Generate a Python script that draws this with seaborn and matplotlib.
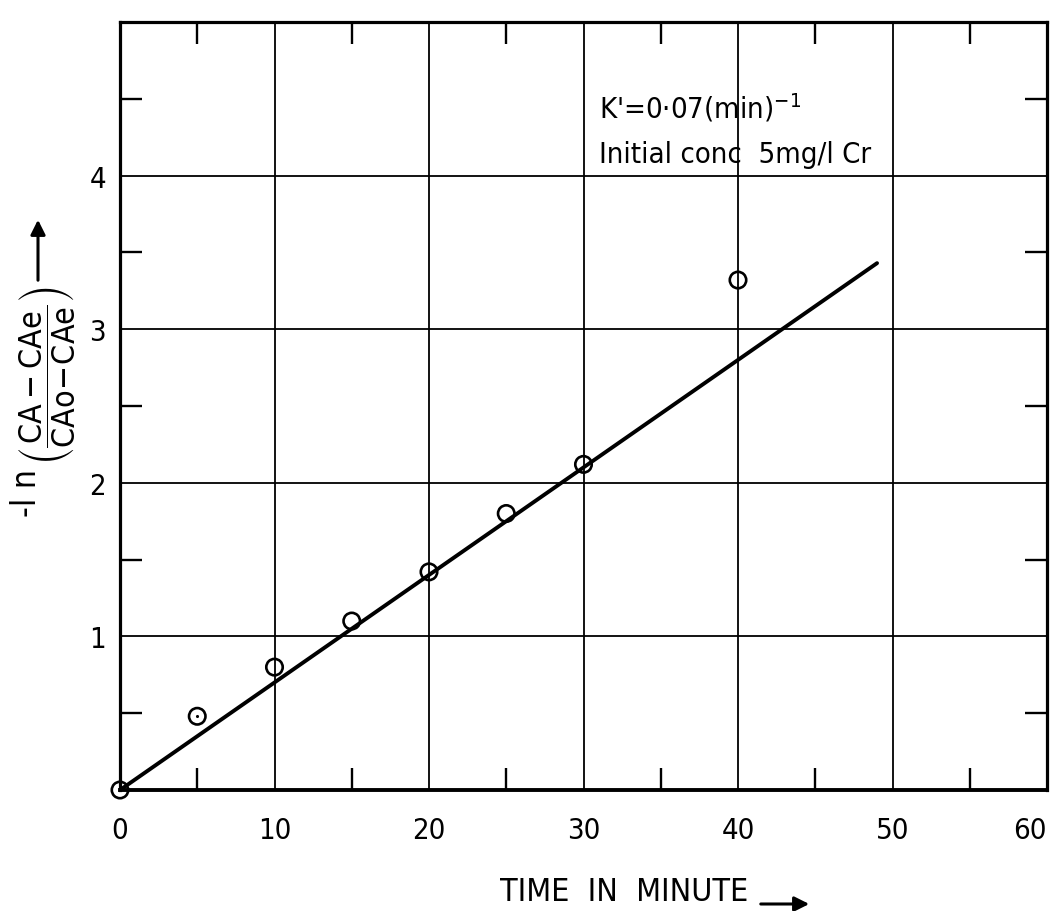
import matplotlib
matplotlib.use("Agg")
import matplotlib.pyplot as plt
import pandas as pd
import seaborn as sns

# Observed first-order plot: -ln((CA-CAe)/(CAo-CAe)) against time
time_min = [0, 5, 10, 15, 20, 25, 30, 40]
neg_ln_ratio = [0.0, 0.48, 0.80, 1.10, 1.42, 1.80, 2.12, 3.32]

# Fitted rate constant (per minute) and time span of the fitted line
rate_k = 0.07
fit_time = [0, 49]

x_ticks = [0, 10, 20, 30, 40, 50, 60]
x_minor = [5, 15, 25, 35, 45, 55]
y_ticks = [1, 2, 3, 4]
y_minor = [0.5, 1.5, 2.5, 3.5, 4.5]

sns.set_theme(style="white")
plt.rcParams["font.family"] = ["DejaVu Sans"]
plt.rcParams["font.stretch"] = "condensed"
plt.rcParams["text.color"] = "black"
plt.rcParams["mathtext.fontset"] = "dejavusans"

W, H = 1050, 912
fig = plt.figure(figsize=(W / 100, H / 100), dpi=100)
ax = fig.add_axes([120 / W, 1 - 791 / H, 927 / W, 768 / H])

obs = pd.DataFrame({"t": time_min, "y": neg_ln_ratio})
fit = pd.DataFrame({"t": fit_time, "y": [rate_k * t for t in fit_time]})

sns.lineplot(data=fit, x="t", y="y", color="black", linewidth=2.8, ax=ax, zorder=4)
sns.scatterplot(data=obs, x="t", y="y", marker="o", s=140, facecolors="none",
                edgecolor="black", linewidth=1.9, ax=ax, clip_on=False, zorder=5)
# centre dot on the 5-minute reading
sns.scatterplot(data=obs[obs["t"] == 5], x="t", y="y", marker="o", s=5,
                color="black", linewidth=0, ax=ax, zorder=6)

ax.set_xlim(0, 60)
ax.set_ylim(0, 5)
ax.set_xticks(x_ticks)
ax.set_xticks(x_minor, minor=True)
ax.set_yticks(y_ticks)
ax.set_yticks(y_minor, minor=True)
ax.set_xticklabels([str(v) for v in x_ticks])
ax.set_yticklabels([str(v) for v in y_ticks])
ax.set_xlabel("")
ax.set_ylabel("")
ax.grid(True, which="major", color="black", linewidth=1.3)
ax.tick_params(which="major", length=0, labelsize=21, colors="black")
ax.tick_params(axis="x", which="major", pad=19)
ax.tick_params(axis="y", which="major", pad=10)
ax.tick_params(which="minor", direction="in", length=16, width=1.7, color="black",
               top=True, bottom=True, left=True, right=True)
ax.get_xticklabels()[-1].set_horizontalalignment("right")
for name, sp in ax.spines.items():
    sp.set_visible(True)
    sp.set_color("black")
    sp.set_linewidth(2.8 if name == "bottom" else 2.3)

# axis titles
fig.text(500 / W, 1 - 893 / H, "TIME  IN  MINUTE", fontsize=23, ha="left", va="center")
ax.annotate("", xy=(812 / W, 1 - 905 / H), xytext=(758 / W, 1 - 905 / H),
            xycoords="figure fraction",
            arrowprops=dict(arrowstyle="-|>", color="black", lw=2.2, mutation_scale=22))

fig.text(47 / W, 1 - 376 / H,
         r"$\left(\dfrac{\mathregular{CA - CAe}}{\mathregular{CAo\!-\!CAe}}\right)$",
         rotation=90, fontsize=23, ha="center", va="center")
fig.text(26 / W, 1 - 493 / H, "-l n", rotation=90, fontsize=24, ha="center", va="center")
ax.annotate("", xy=(38 / W, 1 - 218 / H), xytext=(38 / W, 1 - 284 / H),
            xycoords="figure fraction",
            arrowprops=dict(arrowstyle="-|>", color="black", lw=2.2, mutation_scale=22))

# rate constant and conditions
fig.text(599 / W, 1 - 108 / H, r"K'=0·07(min)$^{-1}$", fontsize=21, va="center", ha="left")
fig.text(599 / W, 1 - 155 / H, "Initial conc  5mg/l Cr", fontsize=21, va="center", ha="left")

fig.savefig("out.png", dpi=100, facecolor="white")
